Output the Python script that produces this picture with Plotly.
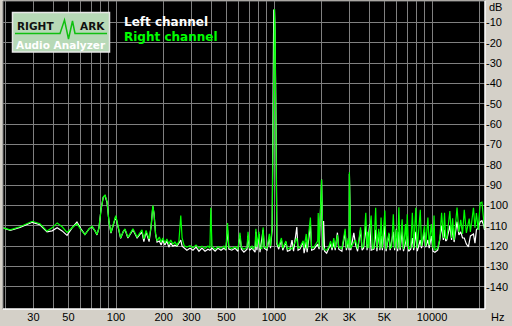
import plotly.graph_objects as go

# ---------------- data ----------------
RIGHT_CH = [
    (19.3, -111.0), (21.4, -112.0), (24.7, -110.5), (29.5, -107.8), (33, -109.0), (36.6, -112.6),
    (39.4, -111.0), (42.4, -108.6), (45.6, -110.5), (49, -113.3), (52.7, -111.0), (56.6, -109.0),
    (60, -112.0), (63.6, -114.3), (67.5, -111.5), (70.5, -110.2), (73.7, -112.5), (75.8, -114.3),
    (78, -111.0), (80.4, -102.0), (83, -96.0), (85.2, -94.8), (87.7, -98.0), (90.3, -108.0),
    (92.9, -113.4), (95.7, -110.0), (99.6, -105.0), (103, -110.0), (107, -115.9), (111, -113.0),
    (114, -111.5), (119, -115.7), (124, -113.0), (128, -111.5), (136, -115.5), (142, -113.0),
    (146, -112.0), (150, -116.5), (155, -112.3), (162, -116.5), (167, -110.0), (171, -100.0),
    (174, -104.0), (178, -114.0), (182, -117.4), (188, -115.5), (193, -118.0), (198, -116.0),
    (204, -118.5), (210, -116.5), (216, -119.0), (222, -117.0), (229, -119.0), (236, -118.0),
    (243, -119.5), (250, -117.8), (257, -105.0), (262, -116.0), (270, -119.8), (281, -120.5),
    (294, -119.8), (307, -120.8), (321, -119.5), (335, -121.0), (350, -120.0), (366, -121.2),
    (382, -120.0), (393, -121.0), (398, -101.2), (405, -120.0), (424, -121.5), (442, -120.3),
    (462, -121.0), (482, -120.0), (496, -121.5), (508, -108.6), (518, -120.5), (541, -121.2),
    (566, -120.3), (591, -121.4), (609, -113.4), (622, -120.6), (645, -121.5), (675, -120.5),
    (685, -113.0), (700, -121.0), (726, -120.0), (737, -121.5), (759, -120.0), (768, -111.5),
    (779, -120.5), (803, -113.0), (815, -120.8), (838, -121.2), (853, -110.8), (868, -120.5),
    (903, -121.0), (934, -114.0), (950, -120.0), (973, -110.0), (984, -59.0), (996, -3.5),
    (1007, -3.5), (1015, -13.3), (1030, -60.0), (1043, -118.0), (1071, -120.5), (1114, -116.0),
    (1136, -121.0), (1190, -117.5), (1216, -121.5), (1262, -120.8), (1300, -121.5), (1394, -116.0),
    (1420, -121.0), (1460, -120.5), (1530, -117.4), (1550, -121.0), (1600, -114.0), (1620, -121.2),
    (1700, -106.0), (1730, -121.0), (1790, -120.5), (1890, -117.5), (1905, -103.7), (1930, -120.5),
    (2000, -87.3), (2040, -120.0), (2090, -121.8), (2154, -122.0), (2220, -120.5), (2282, -117.5),
    (2330, -121.0), (2390, -116.0), (2440, -121.0), (2520, -114.5), (2570, -120.5), (2690, -121.2),
    (2820, -111.5), (2870, -121.0), (2950, -116.0), (2985, -121.0), (3000, -83.7), (3060, -121.0),
    (3200, -118.0), (3280, -117.0), (3380, -121.3), (3530, -110.8), (3610, -121.0), (3690, -120.0),
    (3810, -103.6), (3880, -121.0), (3920, -112.9), (3980, -121.0), (4035, -112.0), (4120, -105.0),
    (4200, -121.5), (4290, -120.5), (4400, -101.2), (4480, -121.0), (4600, -111.5), (4680, -121.2),
    (4760, -106.0), (4850, -121.0), (5030, -102.5), (5120, -121.5), (5340, -113.4), (5430, -121.0),
    (5550, -120.5), (5690, -104.3), (5800, -121.0), (5950, -111.8), (6060, -121.3), (6170, -100.9),
    (6280, -121.0), (6470, -106.8), (6600, -121.5), (6800, -109.2), (6900, -120.0), (6970, -104.3),
    (7110, -121.5), (7330, -120.5), (7510, -103.6), (7660, -121.0), (7900, -101.2), (8070, -121.0),
    (8430, -102.1), (8580, -120.0), (8960, -110.0), (9120, -120.0), (9420, -106.0), (9600, -119.5),
    (9900, -109.2), (10140, -121.0), (10300, -105.0), (10430, -122.0), (10860, -121.0),
    (11200, -116.5), (11500, -103.6), (11800, -116.0), (12000, -103.6), (12200, -116.0),
    (12400, -116.5), (12970, -102.8), (13300, -116.0), (13500, -106.3), (13800, -117.0),
    (14400, -101.0), (14800, -113.0), (15200, -107.1), (15600, -114.0), (16000, -102.2),
    (16500, -113.5), (17200, -106.5), (17500, -113.0), (18300, -101.2), (18700, -111.0),
    (19100, -103.7), (19600, -112.0), (20200, -98.8), (20700, -98.4), (21300, -107.0), (21500, -111.6),
]

LEFT_CH = [
    (19.3, -111.0), (21.4, -112.3), (24.7, -110.8), (29.5, -108.3), (33, -109.5), (36.6, -113.0),
    (39.4, -112.5), (42.4, -111.0), (45.6, -112.5), (49, -114.7), (52.7, -111.0), (56.6, -108.2),
    (60, -111.5), (63.6, -114.3), (67.5, -111.5), (70.5, -110.5), (73.7, -112.5), (75.8, -114.5),
    (78, -111.0), (80.4, -102.0), (83, -96.0), (85.2, -95.2), (87.7, -98.5), (90.3, -108.0),
    (92.9, -113.6), (95.7, -110.0), (99.6, -105.5), (103, -110.5), (107, -116.2), (111, -113.0),
    (114, -111.8), (119, -116.0), (124, -113.5), (128, -112.0), (136, -116.0), (142, -114.0),
    (146, -113.0), (150, -117.8), (155, -113.0), (162, -117.8), (167, -110.0), (171, -100.5),
    (174, -104.0), (178, -114.0), (182, -118.0), (188, -117.5), (193, -119.5), (198, -117.0),
    (204, -119.5), (210, -117.5), (216, -120.5), (222, -118.5), (229, -120.0), (236, -119.5),
    (243, -120.0), (250, -118.5), (257, -117.0), (262, -120.0), (270, -121.0), (281, -122.0),
    (294, -121.0), (307, -122.0), (321, -120.5), (335, -122.5), (350, -121.0), (366, -122.5),
    (382, -121.5), (393, -122.0), (405, -121.0), (424, -122.5), (442, -121.0), (462, -122.0),
    (482, -121.0), (496, -122.0), (508, -112.0), (518, -121.5), (541, -122.0), (566, -121.0),
    (591, -122.5), (609, -115.0), (622, -121.5), (645, -123.0), (675, -121.5), (685, -115.0),
    (700, -122.0), (726, -121.0), (759, -123.0), (768, -113.0), (779, -122.0), (803, -114.0),
    (815, -123.0), (853, -112.0), (868, -121.0), (903, -122.0), (934, -116.0), (950, -121.0),
    (973, -112.0), (984, -60.0), (996, -4.0), (1007, -4.0), (1015, -14.0), (1030, -60.0),
    (1043, -119.0), (1071, -121.5), (1114, -117.0), (1136, -122.0), (1190, -118.0), (1216, -122.5),
    (1262, -122.0), (1300, -117.0), (1330, -122.5), (1394, -110.6), (1420, -122.0), (1460, -121.5),
    (1530, -118.0), (1550, -123.5), (1600, -118.0), (1620, -123.0), (1700, -110.0), (1730, -122.0),
    (1790, -121.5), (1890, -119.0), (1930, -121.5), (2000, -87.3), (2040, -122.0), (2060, -107.7),
    (2090, -122.5), (2154, -123.5), (2220, -121.5), (2282, -119.0), (2330, -122.0), (2390, -118.0),
    (2440, -122.0), (2520, -113.4), (2570, -121.5), (2690, -122.5), (2820, -113.0), (2870, -122.0),
    (2950, -118.0), (2985, -122.0), (3000, -84.5), (3060, -122.0), (3200, -113.5), (3280, -119.0),
    (3380, -122.5), (3530, -112.0), (3610, -122.0), (3690, -121.0), (3810, -110.0), (3880, -122.0),
    (4035, -109.2), (4120, -122.0), (4290, -121.5), (4400, -112.0), (4480, -122.5), (4600, -113.0),
    (4680, -122.0), (4760, -115.0), (4850, -122.0), (5030, -110.0), (5120, -122.5), (5340, -114.0),
    (5430, -122.0), (5690, -113.0), (5800, -122.0), (5950, -111.5), (6060, -122.5), (6170, -113.0),
    (6280, -122.0), (6470, -112.7), (6600, -122.5), (6800, -118.0), (6970, -115.0), (7110, -122.5),
    (7330, -121.5), (7510, -116.0), (7660, -122.0), (7900, -113.0), (8070, -122.5), (8430, -117.0),
    (8580, -121.0), (8960, -113.0), (9120, -120.5), (9420, -117.0), (9600, -121.0), (9900, -115.0),
    (10140, -122.5), (10430, -123.0), (10860, -122.0), (11200, -117.0), (11500, -110.0),
    (11800, -117.0), (12000, -112.0), (12200, -117.5), (12400, -117.0), (12970, -110.0),
    (13300, -117.0), (13500, -111.0), (13800, -118.0), (14400, -108.0), (14800, -114.5),
    (15200, -113.0), (15600, -116.0), (16000, -116.0), (16500, -119.0), (17000, -120.4),
    (17200, -117.0), (17500, -115.0), (18300, -114.0), (18700, -118.5), (19100, -112.0),
    (19600, -111.0), (20200, -108.0), (20700, -107.5), (21300, -110.0), (21500, -112.0),
]

X_GRID = [20, 30, 40, 50, 60, 70, 80, 90, 100, 200, 300, 400, 500, 600, 700, 800, 900,
          1000, 2000, 3000, 4000, 5000, 6000, 7000, 8000, 9000, 10000, 20000]
X_LABELS = {30: "30", 50: "50", 100: "100", 200: "200", 300: "300", 500: "500",
            1000: "1000", 2000: "2K", 3000: "3K", 5000: "5K", 10000: "10000"}
Y_TICKS = [-10, -20, -30, -40, -50, -60, -70, -80, -90, -100, -110, -120, -130, -140]

# ---------------- layout geometry ----------------
W_PX, H_PX = 512, 326
L, R, T, B = 3, 27, 1, 17
PW, PH = W_PX - L - R, H_PX - T - B


def px(x):
    return (x - L) / PW


def py(y):
    return 1 - (y - T) / PH


PANEL = "#d4d0c8"
GRID = "#808080"
GREEN = "#00ff00"

lx, ly = zip(*LEFT_CH)
rx, ry = zip(*RIGHT_CH)

fig = go.Figure()
fig.add_trace(go.Scatter(x=list(lx), y=list(ly), mode="lines",
                         line=dict(color="#ffffff", width=1.2), showlegend=False, hoverinfo="skip"))
fig.add_trace(go.Scatter(x=list(rx), y=list(ry), mode="lines",
                         line=dict(color=GREEN, width=1.2), showlegend=False, hoverinfo="skip"))

fig.update_layout(
    width=W_PX, height=H_PX,
    margin=dict(l=L, r=R, t=T, b=B, pad=0),
    paper_bgcolor=PANEL, plot_bgcolor="#000000",
    font=dict(family="Liberation Sans, Arial, sans-serif", size=11, color="#000000"),
    showlegend=False,
)
fig.update_xaxes(
    type="log", range=[1.2848, 4.3354],
    tickvals=X_GRID, ticktext=[X_LABELS.get(v, "") for v in X_GRID],
    showgrid=True, gridcolor=GRID, gridwidth=1,
    ticks="", zeroline=False, showline=False,
    tickfont=dict(size=11, color="#000000"),
)
fig.update_yaxes(
    range=[-150.9, 0.47], side="right",
    tickvals=Y_TICKS, ticktext=[str(v) for v in Y_TICKS],
    showgrid=True, gridcolor=GRID, gridwidth=1,
    ticks="", zeroline=False, showline=False,
    tickfont=dict(size=11, color="#000000"),
)

shapes = [
    # plot frame (sunken look)
    dict(type="line", xref="paper", yref="paper", x0=0, x1=0, y0=0, y1=1, line=dict(color=GRID, width=1)),
    dict(type="line", xref="paper", yref="paper", x0=0, x1=1, y0=1, y1=1, line=dict(color=GRID, width=1)),
    dict(type="line", xref="paper", yref="paper", x0=1, x1=1, y0=0, y1=1, line=dict(color="#ffffff", width=1.5)),
    dict(type="line", xref="paper", yref="paper", x0=0, x1=1, y0=0, y1=0, line=dict(color="#ffffff", width=1.5)),
    # logo box
    dict(type="rect", xref="paper", yref="paper", x0=px(12.5), x1=px(109.5), y0=py(52), y1=py(12.5),
         fillcolor="#b7d9b7", line=dict(color="#e8e8e8", width=1.5)),
    dict(type="path", xref="paper", yref="paper",
         path="M {} {} L {} {} L {} {} L {} {} L {} {} L {} {} L {} {}".format(
             px(15), py(33.5), px(60), py(33.5), px(64.5), py(20), px(68.5), py(39),
             px(72.5), py(21), px(75), py(33.5), px(107), py(33.5)),
         line=dict(color="#10c010", width=1.5)),
]

annotations = [
    dict(x=px(15), y=py(26.5), xref="paper", yref="paper", text="<b>RIGHT</b>", showarrow=False,
         xanchor="left", yanchor="middle", font=dict(family="DejaVu Sans", size=10.5, color="#111111")),
    dict(x=px(107), y=py(26.5), xref="paper", yref="paper", text="<b>ARK</b>", showarrow=False,
         xanchor="right", yanchor="middle", font=dict(family="DejaVu Sans", size=10.5, color="#111111")),
    dict(x=px(61), y=py(45.5), xref="paper", yref="paper", text="<b>Audio Analyzer</b>", showarrow=False,
         xanchor="center", yanchor="middle", font=dict(family="DejaVu Sans", size=10.5, color="#ffffff")),
    dict(x=px(122), y=py(22.5), xref="paper", yref="paper", text="<b>Left channel</b>", showarrow=False,
         xanchor="left", yanchor="middle", font=dict(family="DejaVu Sans", size=12, color="#ffffff")),
    dict(x=px(122), y=py(37.5), xref="paper", yref="paper", text="<b>Right channel</b>", showarrow=False,
         xanchor="left", yanchor="middle", font=dict(family="DejaVu Sans", size=12, color=GREEN)),
    dict(x=px(487), y=py(7), xref="paper", yref="paper", text="dB", showarrow=False,
         xanchor="left", yanchor="middle", font=dict(size=11, color="#000000")),
    dict(x=px(489), y=py(317), xref="paper", yref="paper", text="Hz", showarrow=False,
         xanchor="left", yanchor="middle", font=dict(size=11, color="#000000")),
]

fig.update_layout(shapes=shapes, annotations=annotations)
fig.write_html("out.html")
